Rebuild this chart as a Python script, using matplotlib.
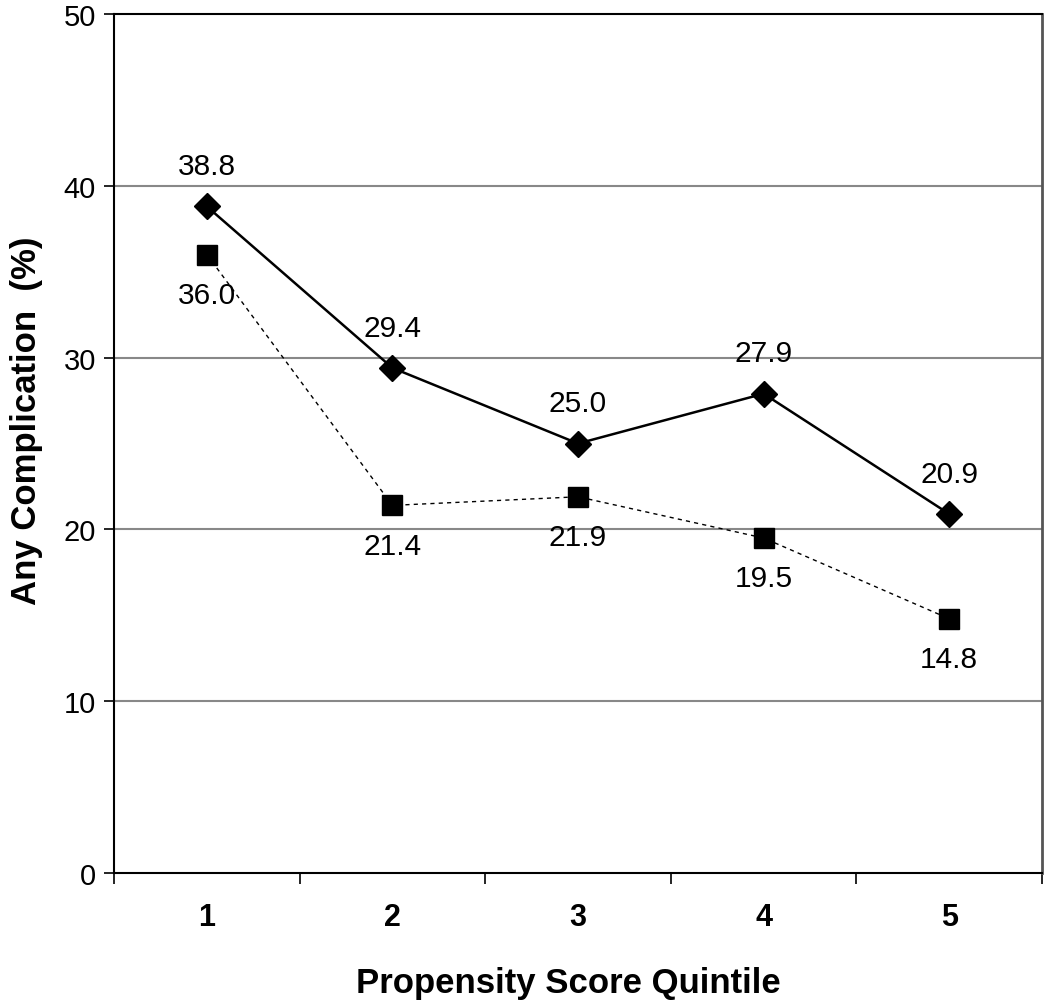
import matplotlib.pyplot as plt

plt.rcParams['font.family'] = ['Liberation Sans', 'DejaVu Sans']

quintiles = [1, 2, 3, 4, 5]
series_diamond = [38.8, 29.4, 25.0, 27.9, 20.9]
series_square = [36.0, 21.4, 21.9, 19.5, 14.8]
y_ticks = [0, 10, 20, 30, 40, 50]

fig = plt.figure(figsize=(10.5, 10.03), dpi=100)
ax = fig.add_axes([0.1086, 0.1286, 0.8838, 0.8564])

for y in y_ticks[1:-1]:
    ax.axhline(y, color='#888888', lw=1.5, zorder=1)

ax.plot(quintiles, series_diamond, color='black', lw=1.8, marker='D',
        markersize=13.5, zorder=3)
ax.plot(quintiles, series_square, color='black', lw=1.0, ls=(0, (3, 3)),
        marker='s', markersize=15, zorder=3)

# value labels: diamonds above, squares below
for x, v in zip(quintiles, series_diamond):
    ax.annotate(f'{v:.1f}', (x, v), xytext=(0, 29), textcoords='offset points',
                ha='center', va='center', fontsize=21.5)
for x, v in zip(quintiles, series_square):
    ax.annotate(f'{v:.1f}', (x, v), xytext=(0, -29), textcoords='offset points',
                ha='center', va='center', fontsize=21.5)

ax.set_xlim(0.5, 5.5)
ax.set_ylim(0, 50)
ax.set_yticks(y_ticks)
ax.set_yticklabels([str(t) for t in y_ticks], fontsize=21)
ax.set_xticks([0.5, 1.5, 2.5, 3.5, 4.5, 5.5])
ax.set_xticklabels([])
ax.set_xticks(quintiles, minor=True)
ax.set_xticklabels([str(q) for q in quintiles], minor=True, fontsize=22,
                   fontweight='bold')
ax.tick_params(axis='x', which='major', length=8, width=1.2, direction='out')
ax.tick_params(axis='x', which='minor', length=0, pad=21)
ax.tick_params(axis='y', length=7, width=1.2, direction='out', pad=6)

ax.spines['top'].set_linewidth(1.5)
ax.spines['left'].set_linewidth(1.5)
ax.spines['bottom'].set_linewidth(1.5)
ax.spines['right'].set_linewidth(2)
ax.spines['right'].set_color('#555555')

ax.set_xlabel('Propensity Score Quintile', fontsize=25, fontweight='bold')
ax.set_ylabel('Any Complication  (%)', fontsize=25, fontweight='bold')
ax.xaxis.set_label_coords(0.490, -0.108)
ax.yaxis.set_label_coords(-0.094, 0.528)
ax.yaxis.label.set_va('center')

fig.savefig('out.png', dpi=100)
